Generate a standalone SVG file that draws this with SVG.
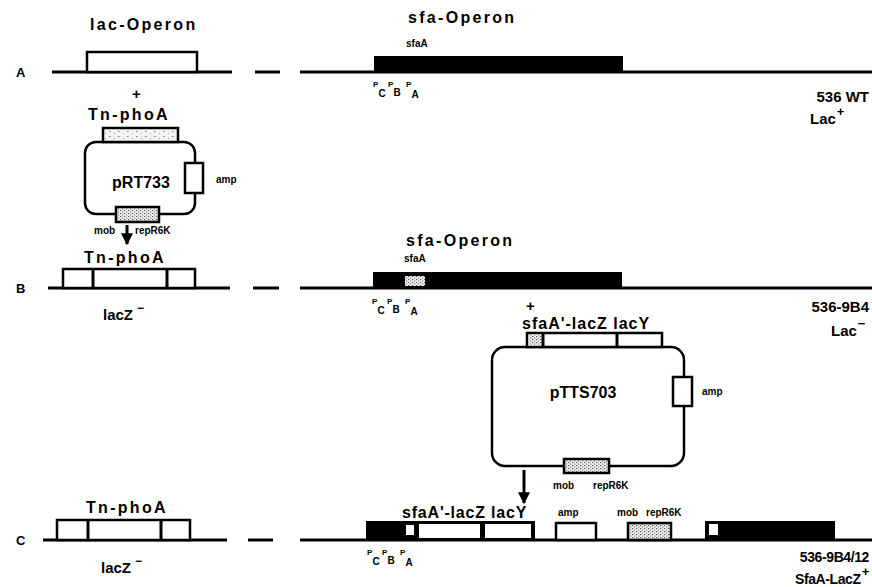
<svg xmlns="http://www.w3.org/2000/svg" width="872" height="587" viewBox="0 0 872 587">
<defs>
<pattern id="dots" width="4" height="3" patternUnits="userSpaceOnUse">
<rect width="4" height="3" fill="#f2f2f2"/>
<rect x="0" y="0" width="1.3" height="1.1" fill="#555"/>
<rect x="2" y="1.5" width="1.3" height="1.1" fill="#777"/>
</pattern>
<pattern id="sparse" width="9" height="5" patternUnits="userSpaceOnUse">
<rect width="9" height="5" fill="#f4f4f4"/>
<rect x="1" y="1" width="1.5" height="1" fill="#777"/>
<rect x="6" y="3" width="1" height="1" fill="#999"/>
</pattern>
<marker id="ah" viewBox="0 0 10 10" refX="9" refY="5" markerWidth="4" markerHeight="4" orient="auto" markerUnits="strokeWidth">
<path d="M0,0 L10,5 L0,10 z" fill="#000"/>
</marker>
<style>
.ln{stroke:#000;stroke-width:3;fill:none}
.bx{fill:#fff;stroke:#000;stroke-width:2.5}
.st{fill:url(#dots);stroke:#000;stroke-width:2.5}
.sp{fill:url(#sparse);stroke:#000;stroke-width:2.5}
.blk{fill:#000}
.pl{fill:#fff;stroke:#000;stroke-width:2.5}
text{font-family:"Liberation Sans",Arial,sans-serif;font-weight:bold;fill:#000}
.hd{font-size:16px;letter-spacing:2.3px}
.lb{font-size:15px}
.nm{font-size:16px}
.sm{font-size:10px}
.row{font-size:13px}
.pp{font-size:8px}
.ps{font-size:10px}
.sup{font-size:13px}
.rl{font-size:14px;letter-spacing:-0.4px}
</style>
</defs>

<!-- Row A -->
<g id="rowA">
<text class="row" x="16" y="77">A</text>
<line class="ln" x1="52" y1="72" x2="232" y2="72"/>
<line class="ln" x1="255" y1="72" x2="280" y2="72"/>
<line class="ln" x1="300" y1="72" x2="872" y2="72"/>
</g>
<g id="lacOperonA">
<rect class="bx" x="87" y="52" width="110" height="20"/>
<text class="hd" x="90" y="30">lac-Operon</text>
</g>
<g id="sfaOperonA">
<rect class="blk" x="374" y="56" width="249" height="16"/>
<text class="hd" x="408" y="23">sfa-Operon</text>
<text class="sm" x="406" y="47">sfaA</text>
<text class="pp" x="373" y="87">P</text><text class="ps" x="378.5" y="97">C</text>
<text class="pp" x="388" y="87">P</text><text class="ps" x="393.5" y="96">B</text>
<text class="pp" x="406" y="87">P</text><text class="ps" x="411.5" y="98">A</text>
<text class="lb" x="869" y="102" text-anchor="end">536 WT</text>
<text class="lb" x="810" y="124">Lac<tspan class="sup" dx="1" dy="-8">+</tspan></text>
</g>

<!-- pRT733 -->
<g id="pRT733">
<text class="lb" x="132" y="99">+</text>
<text class="hd" x="88" y="120">Tn-phoA</text>
<rect class="pl" x="85" y="142" width="110" height="72" rx="11"/>
<rect class="sp" x="103" y="128" width="75" height="14"/>
<rect class="bx" x="185" y="163" width="18" height="30"/>
<text class="sm" x="216" y="183">amp</text>
<text class="nm" x="141" y="188" text-anchor="middle">pRT733</text>
<rect class="st" x="116" y="207" width="43" height="15"/>
<text class="sm" x="94" y="234">mob</text>
<text class="sm" x="135" y="234">repR6K</text>
</g>

<!-- Row B -->
<g id="rowB">
<text class="row" x="16" y="293">B</text>
<line class="ln" x1="48" y1="288" x2="230" y2="288"/>
<line class="ln" x1="253" y1="288" x2="279" y2="288"/>
<line class="ln" x1="300" y1="288" x2="872" y2="288"/>
</g>
<g id="tnphoaB">
<rect class="bx" x="63" y="269" width="132" height="19"/>
<line class="ln" x1="93" y1="269" x2="93" y2="288" stroke-width="2.5"/>
<line class="ln" x1="167" y1="269" x2="167" y2="288" stroke-width="2.5"/>
<text class="hd" x="84" y="263">Tn-phoA</text>
<text class="lb" x="103" y="320">lacZ<tspan dx="4" dy="-8" font-size="12">−</tspan></text>
</g>
<g id="sfaOperonB">
<rect class="blk" x="373" y="272" width="249" height="16"/>
<rect x="405" y="276" width="20" height="10" fill="url(#dots)"/>
<text class="hd" x="406" y="246">sfa-Operon</text>
<text class="sm" x="404" y="262">sfaA</text>
<text class="pp" x="372" y="304">P</text><text class="ps" x="377.5" y="314">C</text>
<text class="pp" x="387" y="304">P</text><text class="ps" x="392.5" y="313">B</text>
<text class="pp" x="405" y="304">P</text><text class="ps" x="410.5" y="315">A</text>
<text class="lb" x="869" y="312" text-anchor="end">536-9B4</text>
<text class="lb" x="831" y="336">Lac<tspan class="sup" dx="1" dy="-8">−</tspan></text>
</g>

<!-- pTTS703 -->
<g id="pTTS703">
<text class="lb" x="526" y="311">+</text>
<text class="nm" x="522" y="329" letter-spacing="1">sfaA'-lacZ lacY</text>
<rect class="pl" x="492" y="347" width="192" height="119" rx="13"/>
<rect class="bx" x="527" y="333" width="135" height="14"/>
<rect x="529" y="335" width="13" height="10" fill="url(#dots)"/>
<line class="ln" x1="543" y1="333" x2="543" y2="347" stroke-width="2.5"/>
<line class="ln" x1="617" y1="333" x2="617" y2="347" stroke-width="2.5"/>
<rect class="bx" x="673" y="377" width="19" height="29"/>
<text class="sm" x="702" y="395">amp</text>
<text class="nm" x="583" y="398" text-anchor="middle">pTTS703</text>
<rect class="st" x="564" y="459" width="45" height="14"/>
<text class="sm" x="553" y="489">mob</text>
<text class="sm" x="593" y="489">repR6K</text>
</g>

<!-- Row C -->
<g id="rowC">
<text class="row" x="16" y="545">C</text>
<line class="ln" x1="43" y1="540" x2="227" y2="540"/>
<line class="ln" x1="248" y1="540" x2="273" y2="540"/>
<line class="ln" x1="300" y1="540" x2="872" y2="540"/>
</g>
<g id="tnphoaC">
<rect class="bx" x="57" y="520" width="133" height="20"/>
<line class="ln" x1="88" y1="520" x2="88" y2="540" stroke-width="2.5"/>
<line class="ln" x1="161" y1="520" x2="161" y2="540" stroke-width="2.5"/>
<text class="hd" x="86" y="513">Tn-phoA</text>
<text class="lb" x="101" y="573">lacZ<tspan dx="4" dy="-8" font-size="12">−</tspan></text>
</g>
<g id="insertC">
<rect class="blk" x="366" y="521" width="169" height="19"/>
<rect x="406" y="525" width="8" height="10" fill="#fff"/>
<rect x="419" y="524" width="61" height="14" fill="#fff"/>
<rect x="485" y="524" width="46" height="14" fill="#fff"/>
<text class="nm" x="402" y="518" letter-spacing="0.8">sfaA'-lacZ lacY</text>
<text class="pp" x="367" y="555">P</text><text class="ps" x="372.5" y="565">C</text>
<text class="pp" x="382" y="555">P</text><text class="ps" x="387.5" y="564">B</text>
<text class="pp" x="400" y="555">P</text><text class="ps" x="405.5" y="566">A</text>
</g>
<g id="ampC">
<rect class="bx" x="556" y="523" width="40" height="17"/>
<text class="sm" x="558" y="516">amp</text>
</g>
<g id="mobC">
<rect class="st" x="628" y="523" width="43" height="17"/>
<text class="sm" x="617" y="516">mob</text>
<text class="sm" x="646" y="516">repR6K</text>
</g>
<g id="sfaRestC">
<rect class="blk" x="705" y="521" width="130" height="19"/>
<rect x="709" y="524" width="9" height="11" fill="#fff"/>
<text class="rl" x="869" y="562" text-anchor="end">536-9B4/12</text>
<text class="rl" x="795" y="584">SfaA-LacZ<tspan class="sup" dx="1" dy="-8">+</tspan></text>
</g>

<!-- connectors -->
<g id="connectors">
<line class="ln" x1="127" y1="225" x2="127" y2="244" stroke-width="2.5" marker-end="url(#ah)"/>
<line class="ln" x1="524" y1="470" x2="524" y2="503" stroke-width="2.5" marker-end="url(#ah)"/>
</g>
</svg>
